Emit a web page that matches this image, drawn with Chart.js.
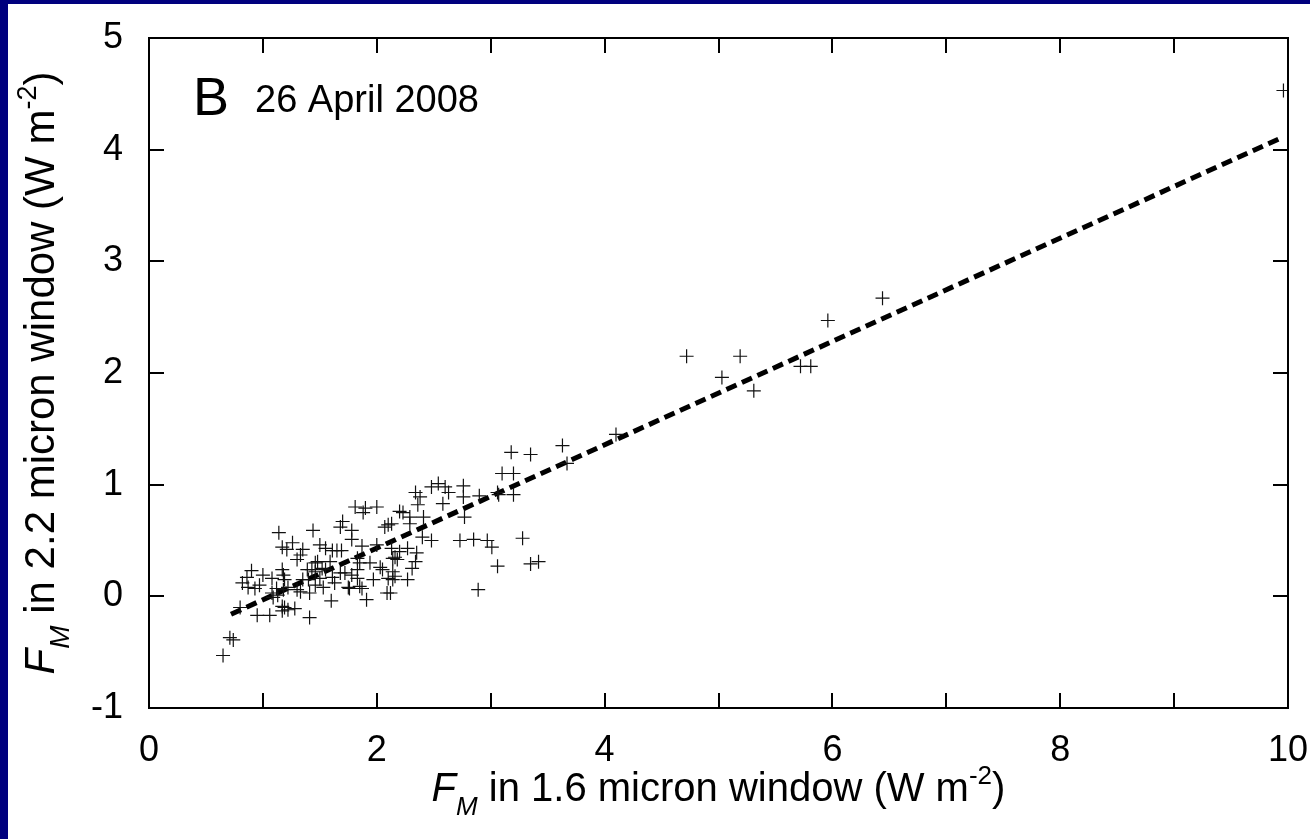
<!DOCTYPE html>
<html>
<head>
<meta charset="utf-8">
<script src="https://cdn.jsdelivr.net/npm/chart.js@4.4.1/dist/chart.umd.min.js"></script>
<style>
  html, body { margin: 0; padding: 0; overflow: hidden; }
  body { width: 1310px; height: 839px; background: #00007e; position: relative; }
  #panel { position: absolute; left: 8px; top: 4px; width: 1302px; height: 835px; background: #fff; }
  #plot { position: absolute; left: 0; top: 0; }
</style>
</head>
<body>
<div id="panel"></div>
<canvas id="plot" width="1310" height="839"></canvas>
<script>
// F_M in the 1.6 micron window (W m-2)
var fm16 = [
  0.71, 0.74, 0.65,
  1.14, 1.44, 1.26, 1.17, 1.21, 1.35, 1.30, 1.33, 1.46, 1.48, 1.43, 0.90, 1.00, 1.17, 1.18, 0.86,
  0.82, 0.87, 0.93, 0.97, 1.19, 1.08, 1.12, 1.13, 1.08, 1.18, 1.22, 1.30, 1.33, 1.41, 1.09, 1.17,
  1.19, 1.17, 1.22, 1.28, 0.80, 0.95, 1.06, 1.41,
  1.81, 1.90, 2.00, 1.88, 1.70, 1.68, 1.78, 1.78, 2.07, 2.10, 1.50, 1.55, 1.61, 1.65, 1.69, 1.87,
  2.00, 2.13, 2.20, 2.27, 1.59, 1.83, 1.85, 1.94, 2.03, 2.16, 1.39, 1.46, 1.52, 1.55, 1.68, 1.72,
  1.83, 2.05, 1.35, 1.40, 1.50, 1.61, 1.78, 1.83, 1.97, 1.46, 1.53, 1.63, 1.75, 1.76, 1.85, 1.87,
  2.10, 1.60, 1.91, 2.09,
  2.34, 2.38, 2.48, 2.54, 2.60, 2.63, 2.36, 2.58, 2.20, 2.23, 2.29, 2.41, 2.13, 2.29, 2.40, 2.48,
  2.35, 2.14, 2.18, 2.34, 2.31, 2.14, 2.16, 2.14, 2.27, 2.12,
  2.76, 2.76, 2.90, 3.06, 3.07, 3.20, 2.77, 2.73, 2.85, 2.97, 3.01, 3.28, 3.06, 3.35, 3.42, 2.89,
  3.18, 3.35, 3.63, 3.67, 3.10, 3.20, 4.10, 4.72, 5.19, 5.03, 5.31, 5.72, 5.81, 5.96, 6.44, 9.96
];

// F_M in the 2.2 micron window (W m-2)
var fm22 = [
  -0.37, -0.39, -0.53,
  0.57, 0.59, 0.48, 0.44, 0.42, 0.42, 0.33, 0.37, 0.30, 0.31, 0.24, 0.23, 0.19, 0.24, 0.19, 0.17,
  0.12, 0.08, 0.07, 0.10, 0.15, 0.16, 0.07, 0.01, 0.03, 0.06, 0.08, 0.06, 0.04, 0.03, -0.01, -0.09,
  -0.10, -0.13, -0.12, -0.11, -0.10, -0.17, -0.17, -0.19,
  0.80, 0.79, 0.80, 0.75, 0.67, 0.62, 0.59, 0.51, 0.62, 0.64, 0.46, 0.43, 0.41, 0.41, 0.41, 0.45,
  0.46, 0.43, 0.40, 0.43, 0.31, 0.34, 0.30, 0.30, 0.26, 0.35, 0.24, 0.22, 0.25, 0.24, 0.21, 0.21,
  0.24, 0.24, 0.15, 0.15, 0.16, 0.17, 0.19, 0.16, 0.15, 0.10, 0.08, 0.12, 0.08, 0.07, 0.09, 0.07,
  0.16, -0.04, -0.03, 0.03,
  0.93, 0.89, 0.98, 1.01, 0.98, 0.93, 0.82, 0.83, 0.76, 0.75, 0.71, 0.71, 0.65, 0.65, 0.53, 0.50,
  0.39, 0.34, 0.33, 0.31, 0.25, 0.22, 0.18, 0.15, 0.15, 0.03,
  0.99, 0.89, 0.90, 0.93, 0.91, 0.91, 0.71, 0.50, 0.51, 0.50, 0.44, 0.52, 0.27, 0.29, 0.31, 0.06,
  1.29, 1.27, 1.35, 1.19, 1.10, 1.10, 1.45, 2.15, 2.15, 1.96, 1.84, 2.06, 2.06, 2.47, 2.67, 4.53
];

// least-squares fit line, end points
var fitX = [0.72, 9.95];
var fitY = [-0.16, 4.11];

var xTicks = [0, 1, 2, 3, 4, 5, 6, 7, 8, 9, 10];
var yTicks = [-1, 0, 1, 2, 3, 4, 5];

var FONT = '"Liberation Sans", Arial, sans-serif';

var points = fm16.map(function (x, i) { return { x: x, y: fm22[i] }; });
var fitLine = fitX.map(function (x, i) { return { x: x, y: fitY[i] }; });

// draws segments of text with italic / sub / superscript parts
function drawRich(ctx, parts, x, y) {
  var total = 0;
  parts.forEach(function (p) {
    ctx.font = (p.italic ? 'italic ' : '') + p.size + 'px ' + FONT;
    p.w = ctx.measureText(p.t).width;
    total += p.w;
  });
  var cx = x - total / 2;
  parts.forEach(function (p) {
    ctx.font = (p.italic ? 'italic ' : '') + p.size + 'px ' + FONT;
    ctx.fillText(p.t, cx, y + (p.dy || 0));
    cx += p.w;
  });
}

function titleParts(text, size) {
  return [
    { t: 'F', size: size, italic: true },
    { t: 'M', size: Math.round(size * 0.66), italic: true, dy: Math.round(size * 0.36) },
    { t: text, size: size },
    { t: '-2', size: Math.round(size * 0.64), dy: -Math.round(size * 0.42) },
    { t: ')', size: size }
  ];
}

var framePlugin = {
  id: 'frame',
  afterDraw: function (chart) {
    var ctx = chart.ctx;
    var a = chart.chartArea;
    var sx = chart.scales.x, sy = chart.scales.y;
    var tl = 15;
    ctx.save();
    ctx.strokeStyle = '#000';
    ctx.lineWidth = 2;
    ctx.strokeRect(a.left, a.top, a.right - a.left, a.bottom - a.top);
    ctx.beginPath();
    xTicks.forEach(function (v) {
      var px = Math.round(sx.getPixelForValue(v));
      ctx.moveTo(px, a.bottom); ctx.lineTo(px, a.bottom - tl);
      ctx.moveTo(px, a.top); ctx.lineTo(px, a.top + tl);
    });
    yTicks.forEach(function (v) {
      var py = Math.round(sy.getPixelForValue(v));
      ctx.moveTo(a.left, py); ctx.lineTo(a.left + tl, py);
      ctx.moveTo(a.right, py); ctx.lineTo(a.right - tl, py);
    });
    ctx.stroke();

    ctx.fillStyle = '#000';
    ctx.textBaseline = 'alphabetic';
    ctx.textAlign = 'left';

    // panel tag and date
    ctx.font = '54px ' + FONT;
    ctx.fillText('B', a.left + 44, a.top + 77);
    ctx.font = '38px ' + FONT;
    ctx.fillText('26 April 2008', a.left + 106, a.top + 74);

    // x axis title
    drawRich(ctx, titleParts(' in 1.6 micron window (W m', 40), (a.left + a.right) / 2, 801);

    // y axis title
    ctx.translate(54, (a.top + a.bottom) / 2);
    ctx.rotate(-Math.PI / 2);
    drawRich(ctx, titleParts(' in 2.2 micron window (W m', 42), 0, 0);
    ctx.restore();
  }
};

Chart.defaults.color = '#000';
Chart.defaults.font.family = FONT;

new Chart(document.getElementById('plot'), {
  type: 'scatter',
  data: {
    datasets: [{
      data: points,
      pointStyle: 'cross',
      pointRadius: 7,
      pointBorderWidth: 1.2,
      borderColor: '#111',
      backgroundColor: '#111'
    }, {
      type: 'line',
      data: fitLine,
      showLine: true,
      borderColor: '#000',
      borderWidth: 5,
      borderDash: [11, 6],
      pointRadius: 0,
      fill: false
    }]
  },
  options: {
    responsive: false,
    animation: false,
    events: [],
    layout: { padding: { left: 0, top: 38, right: 22, bottom: 0 } },
    plugins: { legend: { display: false }, tooltip: { enabled: false } },
    scales: {
      x: {
        type: 'linear',
        min: 0, max: 10,
        grid: { display: false },
        border: { display: false },
        afterFit: function (s) { s.height = 131; s.paddingLeft = 0; s.paddingRight = 0; },
        afterBuildTicks: function (s) { s.ticks = xTicks.map(function (v) { return { value: v }; }); },
        ticks: {
          autoSkip: false,
          maxRotation: 0,
          padding: 13,
          font: { size: 36 },
          callback: function (v) { return v % 2 === 0 ? String(v) : ''; }
        }
      },
      y: {
        type: 'linear',
        min: -1, max: 5,
        grid: { display: false },
        border: { display: false },
        afterFit: function (s) { s.width = 149; s.paddingTop = 0; s.paddingBottom = 0; },
        afterBuildTicks: function (s) { s.ticks = yTicks.map(function (v) { return { value: v }; }); },
        ticks: {
          autoSkip: false,
          padding: 18,
          font: { size: 36 }
        }
      }
    }
  },
  plugins: [framePlugin]
});
</script>
</body>
</html>
